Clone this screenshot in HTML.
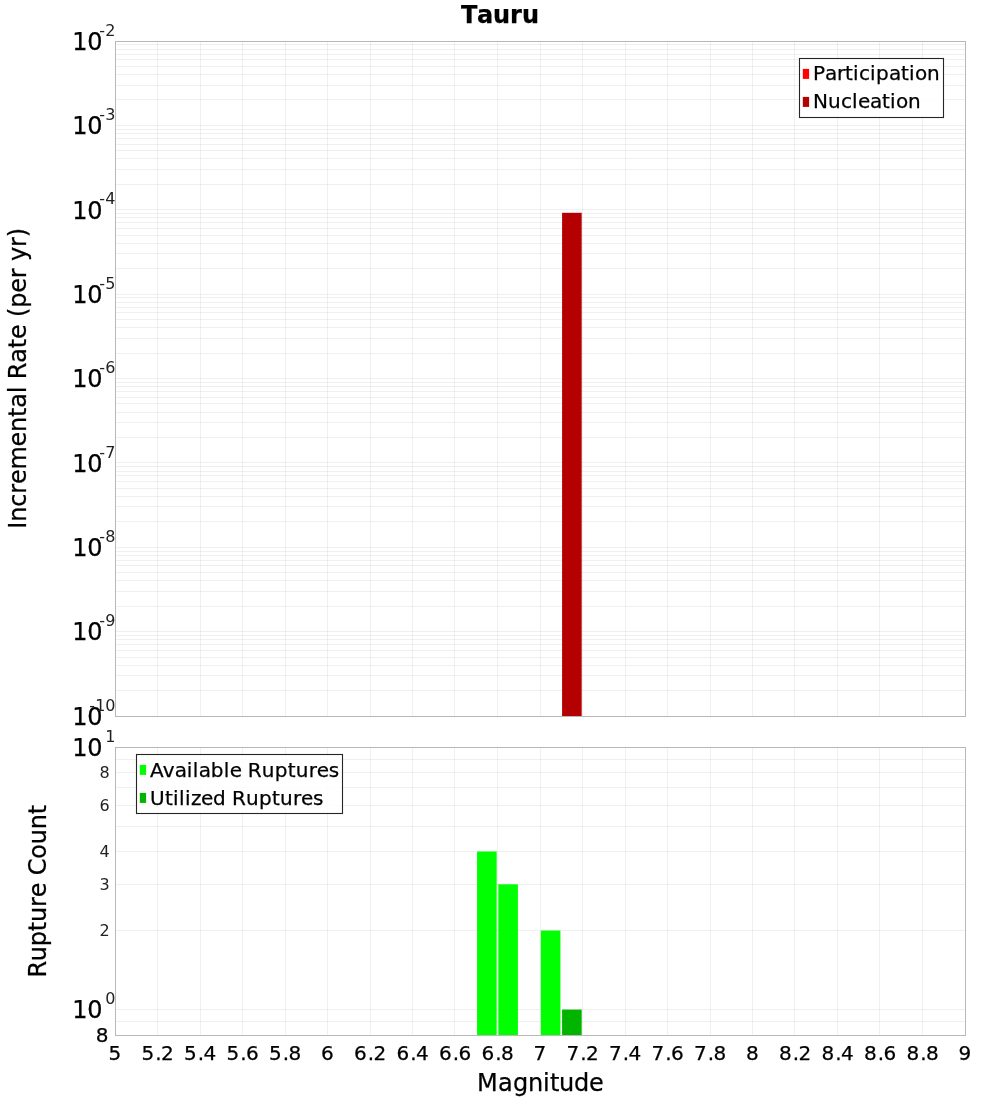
<!DOCTYPE html><html><head><meta charset="utf-8"><title>Tauru</title><style>html,body{margin:0;padding:0;background:#fff}svg{display:block}</style></head><body><svg width="1000" height="1100" viewBox="0 0 1000 1100" font-family="'DejaVu Sans', 'Liberation Sans', sans-serif">
<rect width="1000" height="1100" fill="#fff"/>
<text x="461 477 493 510 522" y="23" font-size="24" font-weight="bold" fill="#000" stroke="#000" stroke-width="0.25">Tauru</text>
<path d="M115 690.5H965M115 675.5H965M115 665.5H965M115 657.5H965M115 650.5H965M115 644.5H965M115 639.5H965M115 635.5H965M115 631.5H965M115 606.5H965M115 591.5H965M115 580.5H965M115 572.5H965M115 565.5H965M115 560.5H965M115 555.5H965M115 551.5H965M115 547.5H965M115 521.5H965M115 506.5H965M115 496.5H965M115 488.5H965M115 481.5H965M115 475.5H965M115 471.5H965M115 466.5H965M115 462.5H965M115 437.5H965M115 422.5H965M115 412.5H965M115 403.5H965M115 397.5H965M115 391.5H965M115 386.5H965M115 382.5H965M115 378.5H965M115 353.5H965M115 338.5H965M115 327.5H965M115 319.5H965M115 312.5H965M115 307.5H965M115 302.5H965M115 297.5H965M115 294.5H965M115 268.5H965M115 253.5H965M115 243.5H965M115 235.5H965M115 228.5H965M115 222.5H965M115 217.5H965M115 213.5H965M115 209.5H965M115 184.5H965M115 169.5H965M115 158.5H965M115 150.5H965M115 144.5H965M115 138.5H965M115 133.5H965M115 129.5H965M115 125.5H965M115 99.5H965M115 85.5H965M115 74.5H965M115 66.5H965M115 59.5H965M115 54.5H965M115 49.5H965M115 44.5H965" stroke="#000" stroke-opacity="0.06" stroke-width="1" fill="none"/>
<path d="M157.5 41V716M200.5 41V716M242.5 41V716M285.5 41V716M327.5 41V716M370.5 41V716M412.5 41V716M454.5 41V716M497.5 41V716M540.5 41V716M582.5 41V716M625.5 41V716M667.5 41V716M710.5 41V716M752.5 41V716M794.5 41V716M837.5 41V716M879.5 41V716M922.5 41V716" stroke="#000" stroke-opacity="0.06" stroke-width="1" fill="none"/>
<path d="M115 1021.5H965M115 1009.5H965M115 930.5H965M115 884.5H965M115 851.5H965M115 826.5H965M115 805.5H965M115 787.5H965M115 772.5H965M115 759.5H965" stroke="#000" stroke-opacity="0.06" stroke-width="1" fill="none"/>
<path d="M157.5 747V1035M200.5 747V1035M242.5 747V1035M285.5 747V1035M327.5 747V1035M370.5 747V1035M412.5 747V1035M454.5 747V1035M497.5 747V1035M540.5 747V1035M582.5 747V1035M625.5 747V1035M667.5 747V1035M710.5 747V1035M752.5 747V1035M794.5 747V1035M837.5 747V1035M879.5 747V1035M922.5 747V1035" stroke="#000" stroke-opacity="0.06" stroke-width="1" fill="none"/>
<rect x="562.08" y="212.80" width="19.60" height="503.20" fill="#b40000"/>
<rect x="477.07" y="851.48" width="19.60" height="183.52" fill="#00ff00"/>
<rect x="498.32" y="884.28" width="19.60" height="150.72" fill="#00ff00"/>
<rect x="540.83" y="930.52" width="19.60" height="104.48" fill="#00ff00"/>
<rect x="562.08" y="1009.56" width="19.60" height="25.44" fill="#00b400"/>
<rect x="115.5" y="41.5" width="850" height="675" fill="none" stroke="#b8b8b8"/>
<rect x="115.5" y="747.5" width="850" height="288" fill="none" stroke="#b8b8b8"/>
<text x="72.2 87.2" y="725" font-size="24" fill="#000" stroke="#000" stroke-width="0.25">10</text>
<text x="89.2 95.2 105.2" y="710.7" font-size="16" text-rendering="auto" fill="#222">-10</text>
<text x="72.2 87.2" y="640" font-size="24" fill="#000" stroke="#000" stroke-width="0.25">10</text>
<text x="99.2 105.2" y="626.3" font-size="16" text-rendering="auto" fill="#222">-9</text>
<text x="72.2 87.2" y="556" font-size="24" fill="#000" stroke="#000" stroke-width="0.25">10</text>
<text x="99.2 105.2" y="542.0" font-size="16" text-rendering="auto" fill="#222">-8</text>
<text x="72.2 87.2" y="472" font-size="24" fill="#000" stroke="#000" stroke-width="0.25">10</text>
<text x="99.2 105.2" y="457.6" font-size="16" text-rendering="auto" fill="#222">-7</text>
<text x="72.2 87.2" y="387" font-size="24" fill="#000" stroke="#000" stroke-width="0.25">10</text>
<text x="99.2 105.2" y="373.2" font-size="16" text-rendering="auto" fill="#222">-6</text>
<text x="72.2 87.2" y="303" font-size="24" fill="#000" stroke="#000" stroke-width="0.25">10</text>
<text x="99.2 105.2" y="288.8" font-size="16" text-rendering="auto" fill="#222">-5</text>
<text x="72.2 87.2" y="219" font-size="24" fill="#000" stroke="#000" stroke-width="0.25">10</text>
<text x="99.2 105.2" y="204.4" font-size="16" text-rendering="auto" fill="#222">-4</text>
<text x="72.2 87.2" y="134" font-size="24" fill="#000" stroke="#000" stroke-width="0.25">10</text>
<text x="99.2 105.2" y="120.1" font-size="16" text-rendering="auto" fill="#222">-3</text>
<text x="72.2 87.2" y="50" font-size="24" fill="#000" stroke="#000" stroke-width="0.25">10</text>
<text x="99.2 105.2" y="35.7" font-size="16" text-rendering="auto" fill="#222">-2</text>
<text x="72.2 87.2" y="756" font-size="24" fill="#000" stroke="#000" stroke-width="0.25">10</text>
<text x="105.2" y="741.7" font-size="16" text-rendering="auto" fill="#222">1</text>
<text x="72.2 87.2" y="1018" font-size="24" fill="#000" stroke="#000" stroke-width="0.25">10</text>
<text x="105.2" y="1004.3" font-size="16" text-rendering="auto" fill="#222">0</text>
<text x="99.5" y="778.3" font-size="16" text-rendering="auto" fill="#222">8</text>
<text x="99.5" y="811.1" font-size="16" text-rendering="auto" fill="#222">6</text>
<text x="99.5" y="857.3" font-size="16" text-rendering="auto" fill="#222">4</text>
<text x="99.5" y="890.1" font-size="16" text-rendering="auto" fill="#222">3</text>
<text x="99.5" y="936.4" font-size="16" text-rendering="auto" fill="#222">2</text>
<text x="95.7" y="1042" font-size="20" fill="#000" stroke="#000" stroke-width="0.25">8</text>
<text x="108.5" y="1059.5" font-size="20" fill="#000" stroke="#000" stroke-width="0.25">5</text>
<text x="141.5 155.2 160.9" y="1059.5" font-size="20" fill="#000" stroke="#000" stroke-width="0.25">5.2</text>
<text x="184 197.7 203.4" y="1059.5" font-size="20" fill="#000" stroke="#000" stroke-width="0.25">5.4</text>
<text x="226.5 240.2 245.9" y="1059.5" font-size="20" fill="#000" stroke="#000" stroke-width="0.25">5.6</text>
<text x="269 282.7 288.4" y="1059.5" font-size="20" fill="#000" stroke="#000" stroke-width="0.25">5.8</text>
<text x="321" y="1059.5" font-size="20" fill="#000" stroke="#000" stroke-width="0.25">6</text>
<text x="354 367.7 373.4" y="1059.5" font-size="20" fill="#000" stroke="#000" stroke-width="0.25">6.2</text>
<text x="396.5 410.2 415.9" y="1059.5" font-size="20" fill="#000" stroke="#000" stroke-width="0.25">6.4</text>
<text x="439 452.7 458.4" y="1059.5" font-size="20" fill="#000" stroke="#000" stroke-width="0.25">6.6</text>
<text x="481.5 495.2 500.9" y="1059.5" font-size="20" fill="#000" stroke="#000" stroke-width="0.25">6.8</text>
<text x="533.5" y="1059.5" font-size="20" fill="#000" stroke="#000" stroke-width="0.25">7</text>
<text x="566.5 580.2 585.9" y="1059.5" font-size="20" fill="#000" stroke="#000" stroke-width="0.25">7.2</text>
<text x="609 622.7 628.4" y="1059.5" font-size="20" fill="#000" stroke="#000" stroke-width="0.25">7.4</text>
<text x="651.5 665.2 670.9" y="1059.5" font-size="20" fill="#000" stroke="#000" stroke-width="0.25">7.6</text>
<text x="694 707.7 713.4" y="1059.5" font-size="20" fill="#000" stroke="#000" stroke-width="0.25">7.8</text>
<text x="746" y="1059.5" font-size="20" fill="#000" stroke="#000" stroke-width="0.25">8</text>
<text x="779 792.7 798.4" y="1059.5" font-size="20" fill="#000" stroke="#000" stroke-width="0.25">8.2</text>
<text x="821.5 835.2 840.9" y="1059.5" font-size="20" fill="#000" stroke="#000" stroke-width="0.25">8.4</text>
<text x="864 877.7 883.4" y="1059.5" font-size="20" fill="#000" stroke="#000" stroke-width="0.25">8.6</text>
<text x="906.5 920.2 925.9" y="1059.5" font-size="20" fill="#000" stroke="#000" stroke-width="0.25">8.8</text>
<text x="958.5" y="1059.5" font-size="20" fill="#000" stroke="#000" stroke-width="0.25">9</text>
<text x="476.9 497.9 512.9 527.9 542.9 549.9 558.9 573.9 588.9" y="1090.5" font-size="24" fill="#000" stroke="#000" stroke-width="0.25">Magnitude</text>
<text transform="translate(26.3,378.4) rotate(-90)" x="-150.39 -143.42 -128.44 -115.44 -105.72 -91.18 -68.15 -53.61 -38.62 -29.35 -14.87 -8.3 -0.78 15.64 30.13 39.4 53.94 61.45 70.68 85.68 100.23 109.95 117.46 131.45 141.17" y="0" font-size="24" fill="#000" stroke="#000" stroke-width="0.25">Incremental Rate (per yr)</text>
<text transform="translate(46,891.3) rotate(-90)" x="-86.32 -69.9 -54.92 -39.91 -30.64 -15.66 -5.94 8.61 16.12 32.63 47.09 62.07 77.06" y="0" font-size="24" fill="#000" stroke="#000" stroke-width="0.25">Rupture Count</text>
<rect x="799.5" y="58.5" width="144" height="59" fill="#fff" fill-opacity="0.85" stroke="#262626" stroke-width="1.1"/>
<rect x="802.8" y="68.9" width="6.3" height="10" fill="#ff0000"/>
<text x="813 825 837 845 853 859 870 876 889 901 909 915 927" y="80.4" font-size="20" fill="#000" stroke="#000" stroke-width="0.25">Participation</text>
<rect x="802.8" y="96.9" width="6.3" height="10" fill="#b40000"/>
<text x="813 828 841 852 858 870 882 890 896 908" y="108.4" font-size="20" fill="#000" stroke="#000" stroke-width="0.25">Nucleation</text>
<rect x="136.5" y="754.5" width="206" height="59" fill="#fff" fill-opacity="0.85" stroke="#262626" stroke-width="1.1"/>
<rect x="139.8" y="764.9" width="6.3" height="10" fill="#00ff00"/>
<text x="150 162.83 174.83 186.83 192.83 198.83 210.83 223.83 229.83 241.83 247.83 261.83 274.83 287.83 295.83 308.83 316.83 328.83" y="777.4" font-size="20" fill="#000" stroke="#000" stroke-width="0.25">Available Ruptures</text>
<rect x="139.8" y="792.9" width="6.3" height="10" fill="#00b400"/>
<text x="150 165 173 179 185 191 201 213 226 232 246 259 272 280 293 301 313" y="805.4" font-size="20" fill="#000" stroke="#000" stroke-width="0.25">Utilized Ruptures</text>
</svg></body></html>
